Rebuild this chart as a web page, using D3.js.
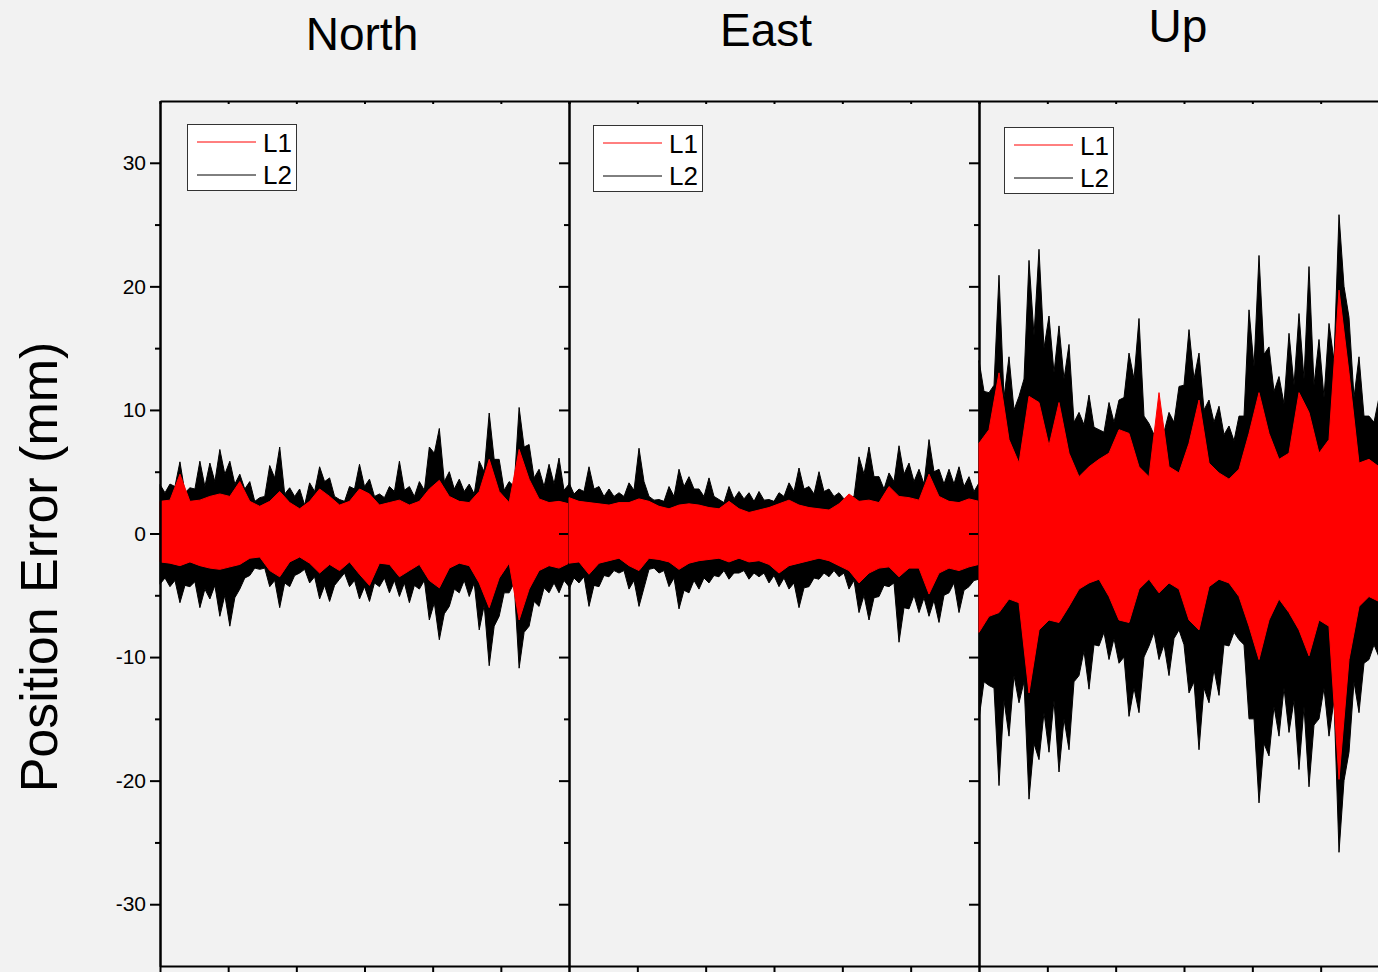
<!DOCTYPE html>
<html>
<head>
<meta charset="utf-8">
<script src="https://cdn.jsdelivr.net/npm/d3@7"></script>
<style>
body { margin: 0; background: #f2f2f2; }
svg { display: block; font-family: "Liberation Sans", Arial, sans-serif; }
</style>
</head>
<body>
<script>
//values, 42 samples per panel (hours 0-24)
//*Hi / *Lo = spike tops of the upper / lower envelope, *HiMid / *LoMid = body level between samples
var hourTicks = [0, 4, 8, 12, 16, 20, 24];
var yTicks = [-30, -20, -10, 0, 10, 20, 30];
var yMinorTicks = [-25, -15, -5, 5, 15, 25];
var seriesNames = ["L1", "L2"];
var seriesColors = ["#ff0000", "#000000"];

var northL2Hi = [3.96,4.0,5.8,3.7,5.85,5.7,6.8,5.85,4.8,4.2,2.9,5.5,7.0,3.7,3.6,4.1,5.4,4.5,2.75,3.8,5.6,4.4,3.2,3.8,5.85,3.8,4.2,7.0,8.5,5.0,4.4,4.0,5.85,9.75,6.0,4.2,10.2,7.2,5.2,5.6,6.1,4.0];
var northL2HiMid = [3.3,3.8,3.3,3.6,3.8,4.2,4.8,4.0,3.6,2.6,3.0,4.5,3.2,3.0,2.3,3.4,4.2,3.0,2.6,3.6,3.8,3.0,2.9,3.4,3.5,3.0,3.5,6.5,4.2,3.6,3.4,3.2,5.0,6.0,3.5,3.8,7.0,4.5,3.8,4.0,3.5];
var northL2Lo = [-4.1,-4.3,-5.6,-4.3,-6.0,-5.3,-6.7,-7.5,-4.5,-3.4,-2.9,-4.3,-6.0,-4.3,-3.2,-4.0,-5.3,-5.5,-3.7,-4.3,-5.3,-5.5,-4.3,-4.8,-5.1,-5.6,-4.5,-7.0,-8.6,-5.9,-4.8,-5.1,-7.8,-10.7,-6.7,-4.8,-10.9,-7.5,-5.9,-4.8,-4.8,-4.3];
var northL2LoMid = [-3.6,-3.8,-4.2,-3.9,-4.5,-4.2,-5.0,-5.2,-3.6,-2.8,-2.8,-3.8,-4.0,-3.4,-2.9,-3.5,-4.2,-4.2,-3.2,-3.8,-4.3,-4.0,-3.6,-3.8,-4.0,-4.2,-3.8,-5.6,-6.5,-4.5,-3.8,-4.0,-5.8,-7.5,-4.8,-4.0,-8.0,-5.5,-4.4,-4.0,-3.8];
var northL1Hi = [2.6,2.7,4.8,2.6,2.7,3.0,3.2,3.0,4.2,2.6,2.2,2.6,3.4,2.5,2.0,2.6,3.6,3.0,2.3,2.6,3.6,3.2,2.3,2.5,2.7,2.3,2.6,3.6,4.3,3.0,2.6,2.5,3.4,6.0,3.4,2.5,6.8,4.4,2.8,2.5,2.6,2.4];
var northL1Lo = [-2.3,-2.4,-2.6,-2.3,-2.6,-2.8,-2.9,-2.7,-2.5,-2.0,-1.9,-3.0,-3.5,-2.3,-1.9,-2.4,-3.2,-2.5,-3.0,-2.3,-3.3,-4.2,-2.4,-2.5,-3.5,-3.0,-2.5,-3.8,-4.4,-2.8,-2.4,-2.6,-4.0,-6.0,-3.6,-2.4,-7.0,-4.5,-3.0,-2.6,-2.8,-2.4];

var eastL2Hi = [4.1,3.6,5.4,3.8,3.6,3.3,4.1,6.9,3.0,2.75,3.8,5.2,4.6,3.6,4.5,2.75,3.8,3.4,3.3,3.4,2.75,3.3,4.1,5.3,3.8,5.0,3.6,3.3,3.0,6.2,7.0,4.6,4.9,7.1,5.7,5.2,7.6,5.2,5.2,5.4,4.6,4.1];
var eastL2HiMid = [3.2,3.4,3.6,3.0,3.0,3.0,3.5,4.2,2.7,2.6,3.0,3.8,3.6,3.0,3.0,2.5,2.8,2.8,2.6,2.7,2.6,3.0,3.4,3.6,3.2,3.4,3.0,2.8,3.0,4.8,4.6,3.6,4.2,4.8,4.2,4.0,5.0,4.0,4.0,3.8,3.4];
var eastL2Lo = [-4.5,-4.0,-5.9,-4.3,-3.5,-3.2,-4.5,-5.9,-2.9,-3.2,-4.3,-6.1,-4.8,-4.5,-4.0,-3.5,-3.7,-3.2,-3.7,-3.5,-4.0,-4.3,-4.5,-6.0,-4.3,-3.7,-3.5,-3.5,-4.5,-6.4,-7.0,-5.1,-4.3,-8.8,-6.1,-6.4,-6.7,-7.2,-4.8,-6.4,-4.3,-3.7];
var eastL2LoMid = [-3.6,-3.5,-4.2,-3.4,-3.0,-3.0,-3.8,-4.4,-2.8,-3.0,-3.6,-4.6,-3.8,-3.6,-3.4,-3.0,-3.2,-3.0,-3.2,-3.2,-3.4,-3.6,-4.0,-4.4,-3.6,-3.2,-3.0,-3.2,-3.8,-5.0,-5.2,-4.2,-4.0,-6.0,-5.0,-5.2,-5.4,-5.0,-4.0,-4.6,-3.8];
var eastL1Hi = [2.9,2.6,2.5,2.4,2.3,2.5,2.5,2.8,2.6,2.2,2.0,2.3,2.4,2.3,2.1,2.0,2.6,2.0,1.7,1.9,2.1,2.4,2.7,2.3,2.1,2.0,1.9,2.4,3.2,2.6,2.7,2.5,3.8,3.0,2.9,2.7,4.8,3.0,2.6,2.5,2.8,2.6];
var eastL1Lo = [-2.4,-2.3,-3.3,-2.4,-2.2,-2.0,-2.6,-3.0,-2.0,-2.1,-2.3,-2.9,-2.4,-2.2,-2.1,-2.0,-2.3,-2.0,-2.3,-2.2,-2.5,-3.2,-2.6,-2.4,-2.2,-2.0,-2.2,-2.6,-3.0,-4.0,-3.2,-2.8,-2.7,-3.5,-2.8,-2.8,-4.9,-3.2,-2.8,-3.0,-2.7,-2.5];

var upL2Hi = [14,11.4,20.9,14.3,11.1,22.1,23.0,17.6,16.8,15.3,9.8,11.2,8.4,10.6,10.8,14.6,17.4,8.9,8.7,9.8,11.9,16.5,14.6,10.8,10.3,8.7,9.5,18.1,22.5,15.1,12.7,16.2,17.8,21.6,15.7,17,25.8,17.5,14.3,9.5,11,10];
var upL2HiMid = [11.5,12.0,11.0,10.0,12.5,16.0,15.0,13.0,12.5,9.0,8.8,8.6,8.2,9.0,11.0,12.5,9.5,8.0,8.2,9.0,12.0,12.5,10.0,9.0,8.0,7.5,9.5,13.5,14.5,11.5,10.5,12.0,12.5,12.0,11.0,14.0,20.0,11.0,9.5,9.0,8.5];
var upL2Lo = [-15.0,-12.3,-20.4,-16.4,-13.7,-21.5,-18.3,-17.7,-19.3,-17.5,-11.5,-12.6,-9.1,-10.2,-10.5,-14.8,-14.5,-9.1,-10.2,-11.5,-7.8,-12.9,-17.5,-13.7,-13.1,-9.1,-8.6,-15.0,-21.8,-18.0,-16.4,-16.1,-19.1,-20.5,-15.0,-16.4,-25.8,-17.7,-14.5,-10.2,-10.0,-10.5];
var upL2LoMid = [-12.0,-12.5,-13.5,-11.5,-12.0,-17.0,-14.5,-13.5,-15.0,-12.0,-9.5,-9.0,-8.0,-8.5,-10.0,-12.5,-10.0,-8.0,-9.0,-8.5,-9.0,-12.0,-12.5,-11.0,-9.0,-8.0,-9.0,-15.0,-17.0,-14.0,-12.5,-13.5,-14.0,-15.5,-12.5,-13.5,-20.0,-12.0,-10.5,-9.0,-8.5];
var upL1Hi = [7.3,8.4,13.0,7.6,5.7,11.1,10.6,7.1,10.6,6.5,4.6,5.4,6.0,6.5,8.4,8.1,5.4,4.6,11.4,5.4,4.9,7.3,10.8,5.7,4.9,4.4,5.2,8.1,11.4,8.1,6.0,6.5,11.4,9.8,6.5,7.6,19.7,13.0,5.7,6.0,5.4,5.0];
var upL1Lo = [-8,-6.7,-6.4,-5.3,-5.6,-12.9,-7.8,-7.0,-7.2,-5.9,-4.5,-4.0,-3.7,-5.1,-7.0,-7.2,-4.5,-3.7,-4.8,-4.0,-4.5,-7.0,-7.8,-4.3,-3.7,-4.0,-5.1,-7.5,-10.2,-7.0,-5.3,-6.4,-7.8,-9.9,-7.0,-7.5,-19.9,-10.2,-5.9,-5.1,-5.5,-5.5];

window.onload = drawChart();

//put the between-sample readings back in between the sample readings
function interleave(main, mid) {
    var out = [];
    main.forEach(function(v, i) {
        out.push(v);
        if (mid && i < mid.length) out.push(mid[i]);
    });
    return out;
}

function drawChart() {
    var width = 1378,
        height = 972;

    var svg = d3.select("body")
        .append("svg")
        .attr("width", width)
        .attr("height", height);

    svg.append("rect")
        .attr("width", width)
        .attr("height", height)
        .attr("fill", "#f2f2f2");

    //layout of each panel
    var panels = [
        {name: "North", x0: 160, x1: 569, titleX: 362, titleY: 50, legendX: 187, legendY: 124,
         l2: [interleave(northL2Hi, northL2HiMid), interleave(northL2Lo, northL2LoMid)],
         l1: [northL1Hi, northL1Lo]},
        {name: "East", x0: 569, x1: 979, titleX: 766, titleY: 46, legendX: 593, legendY: 125,
         l2: [interleave(eastL2Hi, eastL2HiMid), interleave(eastL2Lo, eastL2LoMid)],
         l1: [eastL1Hi, eastL1Lo]},
        {name: "Up", x0: 979, x1: 1389, titleX: 1178, titleY: 42, legendX: 1004, legendY: 127,
         l2: [interleave(upL2Hi, upL2HiMid), interleave(upL2Lo, upL2LoMid)],
         l1: [upL1Hi, upL1Lo]}
    ];

    var y = d3.scaleLinear()
        .domain([-35, 35])
        .range([966, 101]);

    panels.forEach(function(p) {
        var x = d3.scaleLinear()
            .domain([0, 24])
            .range([p.x0, p.x1]);

        var g = svg.append("g").attr("class", "panel " + p.name);

        //draw L2 (black) first, L1 (red) on top
        [[p.l2, "#000000"], [p.l1, "#ff0000"]].forEach(function(s) {
            var hi = s[0][0], lo = s[0][1], n = hi.length;
            var pts = hi.map(function(v, i) {
                return {t: i * 24 / (n - 1), hi: v, lo: lo[i]};
            });
            var area = d3.area()
                .x(function(d) { return x(d.t); })
                .y0(function(d) { return y(d.lo); })
                .y1(function(d) { return y(d.hi); });
            g.append("path")
                .datum(pts)
                .attr("d", area)
                .attr("fill", s[1])
                .attr("stroke", s[1])
                .attr("stroke-width", 1);
        });

        //bottom axis
        g.append("g")
            .attr("class", "axis")
            .attr("transform", "translate(0,966)")
            .call(d3.axisBottom(x).tickValues(hourTicks).tickSize(7).tickSizeOuter(0).tickFormat(""));

        //top axis, small inward ticks
        g.append("g")
            .attr("class", "axis")
            .attr("transform", "translate(0,101)")
            .call(d3.axisTop(x).tickValues(hourTicks).tickSize(-3).tickSizeOuter(0).tickFormat(""));

        //right edge, inward ticks
        g.append("g")
            .attr("class", "axis")
            .attr("transform", "translate(" + p.x1 + ",0)")
            .call(d3.axisRight(y).tickValues(yTicks).tickSize(-10).tickSizeOuter(0).tickFormat(""));
        g.append("g")
            .attr("class", "axis minor")
            .attr("transform", "translate(" + p.x1 + ",0)")
            .call(d3.axisRight(y).tickValues(yMinorTicks).tickSize(-5).tickSizeOuter(0).tickFormat(""));

        //panel title
        svg.append("text")
            .attr("x", p.titleX)
            .attr("y", p.titleY)
            .attr("text-anchor", "middle")
            .attr("font-size", 46)
            .attr("fill", "#000")
            .text(p.name);

        //legend
        var lg = svg.append("g")
            .attr("transform", "translate(" + p.legendX + "," + p.legendY + ")");
        lg.append("rect")
            .attr("width", 109)
            .attr("height", 66)
            .attr("fill", "#ffffff")
            .attr("stroke", "#333")
            .attr("stroke-width", 1)
            .attr("shape-rendering", "crispEdges");
        seriesNames.forEach(function(name, i) {
            lg.append("line")
                .attr("x1", 10).attr("x2", 69)
                .attr("y1", 18 + i * 33).attr("y2", 18 + i * 33)
                .attr("stroke", seriesColors[i])
                .attr("stroke-width", 1);
            lg.append("text")
                .attr("x", 76)
                .attr("y", 28 + i * 32)
                .attr("font-size", 26)
                .attr("fill", "#000")
                .text(name);
        });
    });

    //left axis of the first panel (plain hyphen for negatives)
    svg.append("g")
        .attr("class", "axis")
        .attr("transform", "translate(160,0)")
        .call(d3.axisLeft(y).tickValues(yTicks).tickSize(10).tickSizeOuter(0).tickPadding(4)
            .tickFormat(function(d) { return String(d); }));
    svg.append("g")
        .attr("class", "axis minor")
        .attr("transform", "translate(160,0)")
        .call(d3.axisLeft(y).tickValues(yMinorTicks).tickSize(5).tickSizeOuter(0).tickFormat(""));

    svg.selectAll(".axis path, .axis line")
        .attr("stroke", "#000")
        .attr("stroke-width", 2);
    svg.selectAll(".axis text")
        .attr("font-size", 21)
        .attr("fill", "#000")
        .attr("font-family", "Liberation Sans, Arial, sans-serif");

    //y axis title
    svg.append("text")
        .attr("transform", "translate(57,567) rotate(-90)")
        .attr("text-anchor", "middle")
        .attr("font-size", 52)
        .attr("fill", "#000")
        .text("Position Error (mm)");
};
</script>
</body>
</html>
